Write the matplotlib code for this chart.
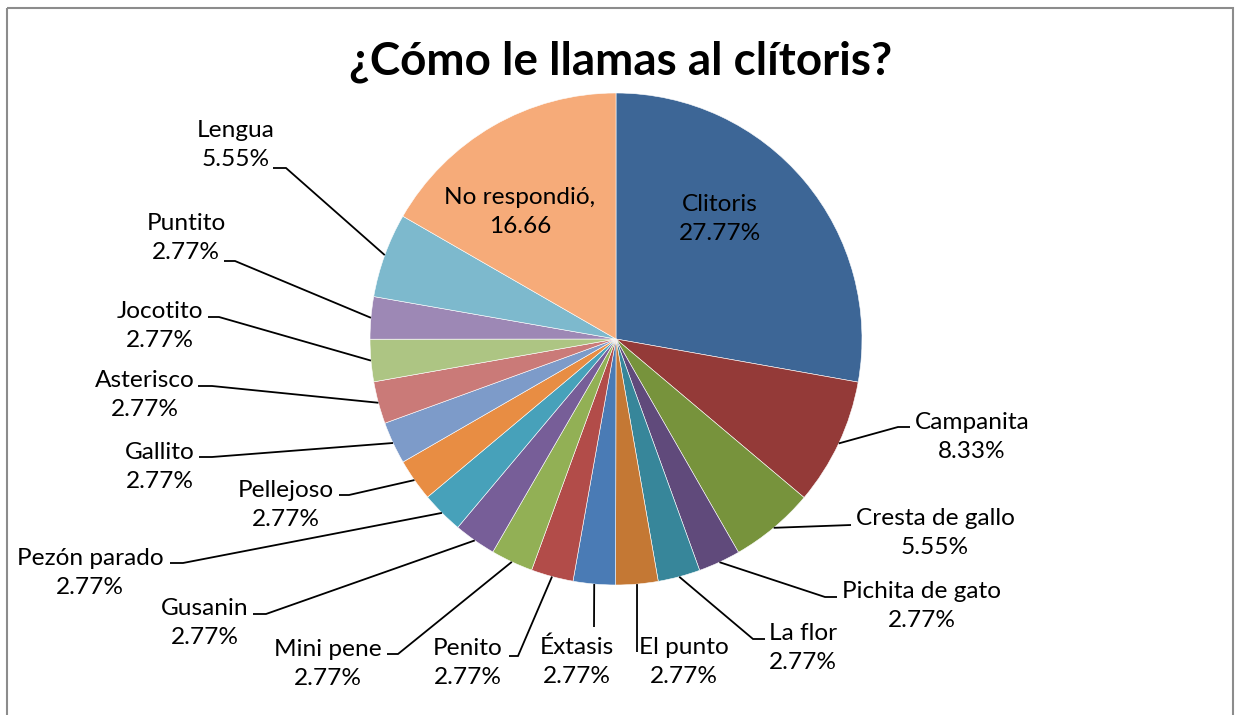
import numpy as np
import matplotlib
matplotlib.use('Agg')
import matplotlib.pyplot as plt
from matplotlib.patches import Rectangle

FONT = 'Lato'

categories = ['Clitoris', 'Campanita', 'Cresta de gallo', 'Pichita de gato', 'La flor',
              'El punto', 'Éxtasis', 'Penito', 'Mini pene', 'Gusanin', 'Pezón parado',
              'Pellejoso', 'Gallito', 'Asterisco', 'Jocotito', 'Puntito', 'Lengua',
              'No respondió']
values = [27.77, 8.33, 5.55, 2.77, 2.77, 2.77, 2.77, 2.77, 2.77, 2.77, 2.77,
          2.77, 2.77, 2.77, 2.77, 2.77, 5.55, 16.66]
colors = ['#3D6696', '#943A38', '#77933C', '#604A7B', '#37869A', '#C47834',
          '#4A7BB5', '#B24C49', '#92B055', '#775E98', '#47A1BA', '#E88D43',
          '#7D9BC9', '#CA7A78', '#ADC583', '#9D88B5', '#7DB9CD', '#F6AB79']
title = '¿Cómo le llamas al clítoris?'

# label layout in pixel coords: text centre, attach point of leader, stub length
# None -> label drawn inside the slice
label_layout = [
    (720, 219, None, None, 0),
    (972, 437, 910, 427, -12),
    (935, 533, 851, 525, 0),
    (922, 606, 837, 597, -12),
    (803, 648, 765, 639, -12),
    (684, 662, 637, 652, 0),
    (577, 662, 594, 627, 0),
    (468, 663, 509, 656, 9),
    (328, 664, 387, 654, 11),
    (205, 623, 253, 614, 13),
    (90, 573, 170, 563, 13),
    (286, 505, 339, 495, 10),
    (160, 467, 199, 457, 13),
    (145, 395, 198, 386, 14),
    (160, 326, 208, 317, 11),
    (186, 238, 224, 261, 11),
    (236, 145, 273, 168, 13),
    (520, 212, None, None, 0),
]

W, H = 1235, 715
CX, CY, R = 616, 339, 246

fig = plt.figure(figsize=(W / 100, H / 100), dpi=100)
ax = fig.add_axes([0, 0, 1, 1])

wedges, _ = ax.pie(values, colors=colors, startangle=-90, counterclock=True,
                   center=(CX, CY), radius=R,
                   wedgeprops=dict(edgecolor='white', linewidth=0.4))

ax.set_xlim(0, W)
ax.set_ylim(H, 0)
ax.set_aspect('equal')
ax.axis('off')

for w, name, val, (tx, ty, sx, sy, stub) in zip(wedges, categories, values, label_layout):
    if name == 'No respondió':
        txt = f'{name},\n{val:.2f}'
    else:
        txt = f'{name}\n{val:.2f}%'
    ax.text(tx, ty, txt, ha='center', va='center', multialignment='center',
            fontsize=17.6, family=FONT, color='black', linespacing=1.48)
    if sx is None:
        continue
    mid = np.deg2rad((w.theta1 + w.theta2) / 2)
    ex = CX + R * np.cos(mid)
    ey = CY + R * np.sin(mid)
    ax.plot([sx, sx + stub, ex], [sy, sy, ey], color='black', lw=1.3,
            solid_capstyle='butt', solid_joinstyle='miter')

ax.text(621, 62, title, ha='center', va='center', fontsize=33,
        fontweight='bold', family=FONT, color='black')

ax.add_patch(Rectangle((7, 8), 1226, 720, fill=False, edgecolor='#8c8c8c',
                       lw=1.5, clip_on=False))

fig.savefig('out.png', dpi=100)
